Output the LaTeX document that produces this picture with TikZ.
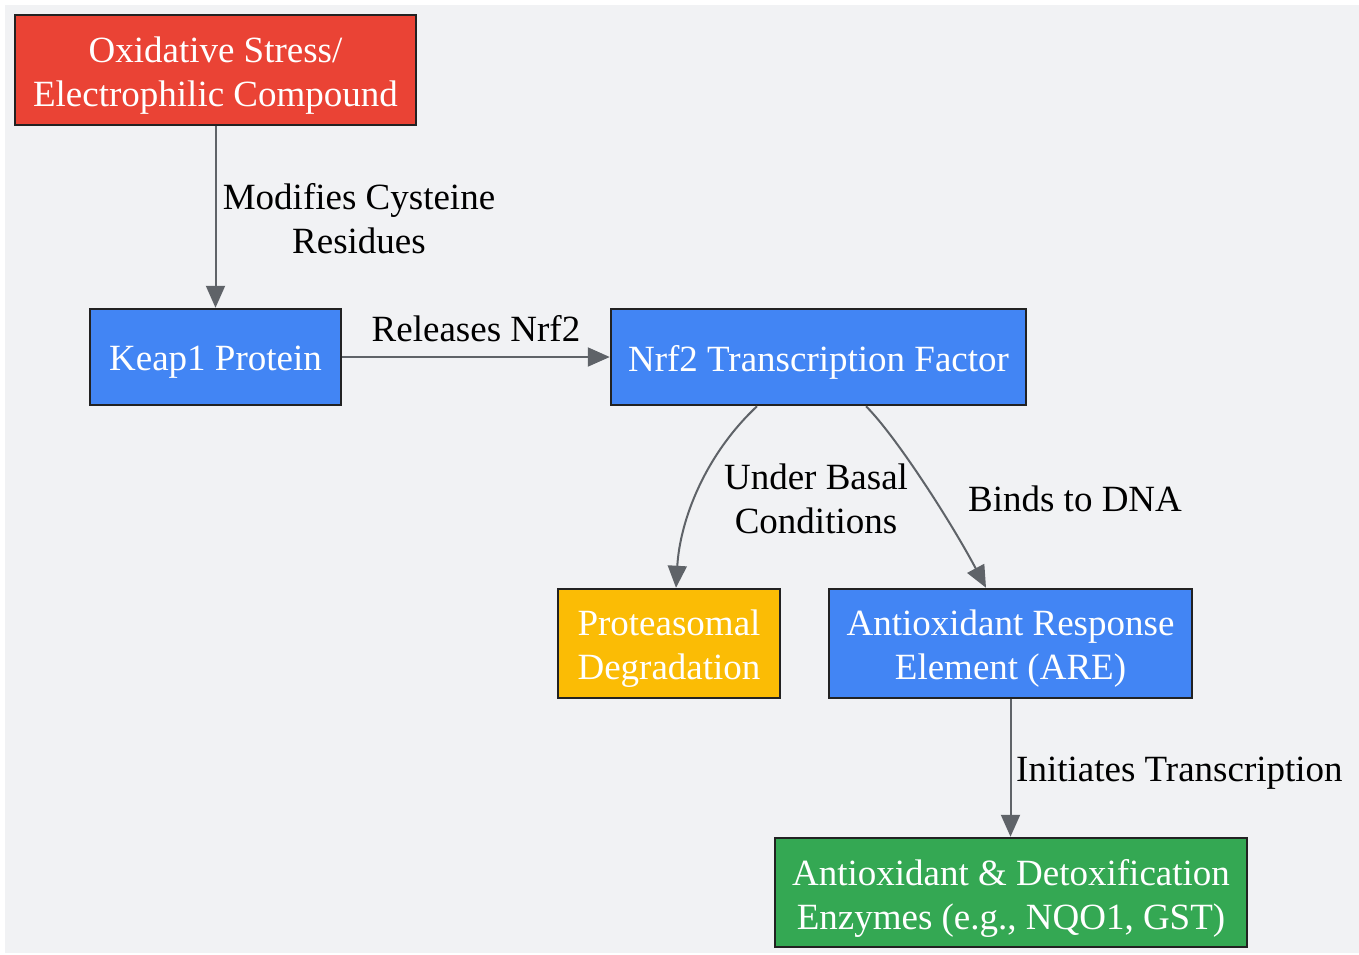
\documentclass[tikz,border=0pt]{standalone}
\usepackage{fontspec}
\setmainfont{Liberation Serif}
\usetikzlibrary{arrows.meta}
\definecolor{bggray}{HTML}{F1F2F4}
\definecolor{gred}{HTML}{EA4335}
\definecolor{gblue}{HTML}{4285F4}
\definecolor{gyellow}{HTML}{FBBC05}
\definecolor{ggreen}{HTML}{34A853}
\definecolor{edgegray}{HTML}{5F6368}
\definecolor{borderdark}{HTML}{222222}
\tikzset{
  boxnode/.style={draw=borderdark, line width=2.5pt, inner sep=0pt},
  boxtext/.style={text=white, align=center, inner sep=0pt, font=\fontsize{37}{44}\selectfont},
  lbl/.style={text=black, align=center, inner sep=0pt, font=\fontsize{37}{44}\selectfont},
  conn/.style={draw=edgegray, line width=2pt, -{Triangle[length=22pt,width=19pt]}}
}
\begin{document}
\begin{tikzpicture}[x=1pt,y=-1pt]
\useasboundingbox (0,0) rectangle (1359,954);
\fill[white] (0,0) rectangle (1359,954);
\fill[bggray] (5,5) rectangle (1359,953);

\node[boxnode, fill=gred, minimum width=401pt, minimum height=110pt] (ox) at (215.5,70) {};
\node[boxnode, fill=gblue, minimum width=251pt, minimum height=96pt] (keap) at (215.5,357) {};
\node[boxnode, fill=gblue, minimum width=415pt, minimum height=96pt] (nrf) at (818.5,357) {};
\node[boxnode, fill=gyellow, minimum width=222pt, minimum height=109pt] (prot) at (669,643.5) {};
\node[boxnode, fill=gblue, minimum width=363pt, minimum height=109pt] (are) at (1010.5,643.5) {};
\node[boxnode, fill=ggreen, minimum width=472pt, minimum height=109pt] (enz) at (1011,892.5) {};

\node[boxtext] (oxt) at ([yshift=-5.5pt]ox.center) {Oxidative Stress/\\Electrophilic Compound};
\node[boxtext] (keapt) at ([yshift=-5.5pt]keap.center) {Keap1 Protein};
\node[boxtext] (nrft) at ([yshift=-5.5pt]nrf.center) {Nrf2 Transcription Factor};
\node[boxtext] (prott) at ([yshift=-5.5pt]prot.center) {Proteasomal\\Degradation};
\node[boxtext] (aret) at ([yshift=-5.5pt]are.center) {Antioxidant Response\\Element (ARE)};
\node[boxtext] (enzt) at ([yshift=-5.5pt]enz.center) {Antioxidant \& Detoxification\\Enzymes (e.g., NQO1, GST)};

\draw[conn] (ox.south) -- (keap.north);
\draw[conn] (keap.east) -- (nrf.west);
\draw[conn] ([xshift=-61.5pt]nrf.south) .. controls (705,455) and (680,520) .. ([xshift=7pt]prot.north);
\draw[conn] ([xshift=47.5pt]nrf.south) .. controls (895,435) and (950,520) .. ([xshift=-24.5pt]are.north);
\draw[conn] (are.south) -- (are.south |- enz.north);

\node[lbl] (l1) at (359,219) {Modifies Cysteine\\Residues};
\node[lbl] (l2) at (476,329) {Releases Nrf2};
\node[lbl] (l3) at (816,499) {Under Basal\\Conditions};
\node[lbl] (l4) at (1075,499) {Binds to DNA};
\node[lbl, anchor=west] (l5) at (1016,773) {Initiates Transcription};
\end{tikzpicture}
\end{document}
